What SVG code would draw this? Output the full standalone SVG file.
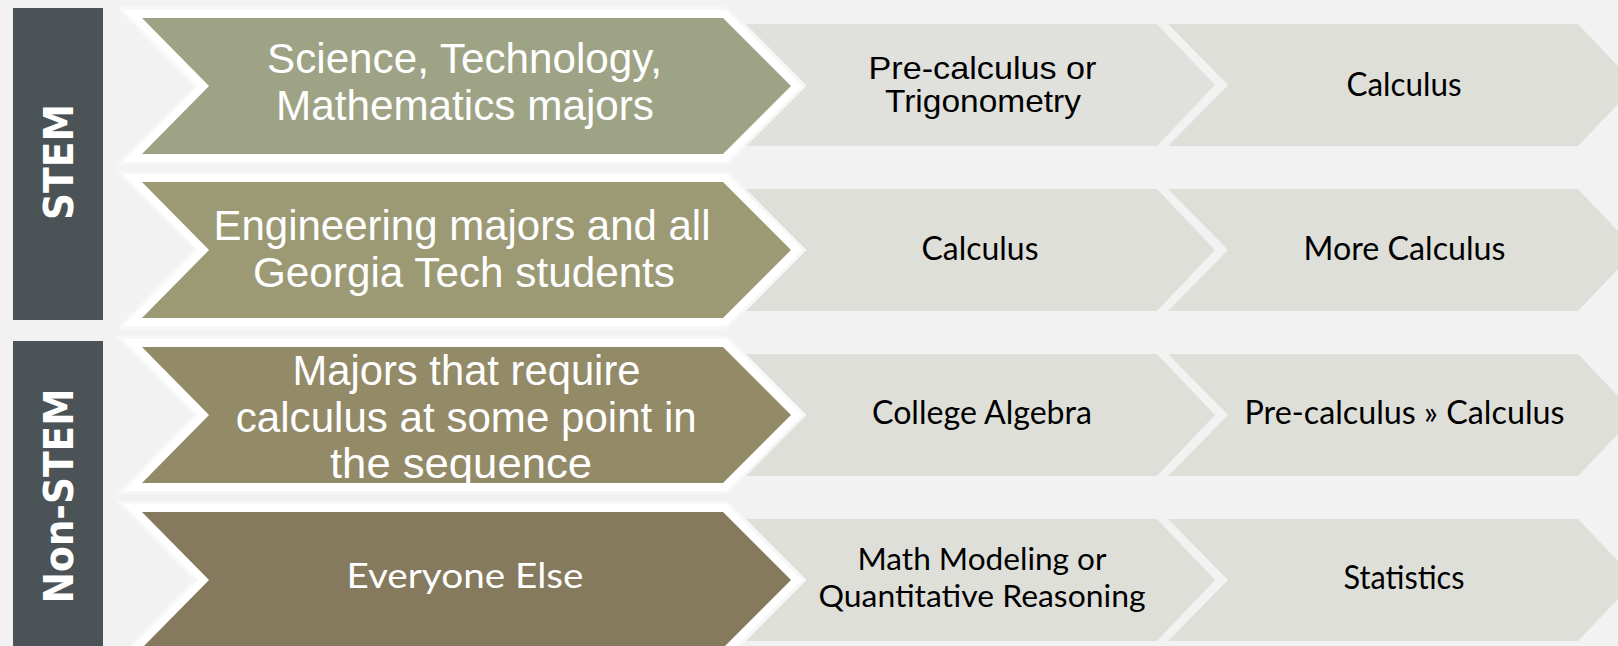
<svg xmlns="http://www.w3.org/2000/svg" width="1618" height="646" viewBox="0 0 1618 646">
<style>
.bg{fill:#f2f2f2}
.bar{fill:#4b5356}
.bartxt{font-family:"DejaVu Sans",sans-serif;font-weight:bold;font-size:40px;fill:#ffffff;text-anchor:middle}
.step{fill:#dfdfd9}
.glow{fill:none;stroke:#f7f7f7;stroke-width:22;stroke-linejoin:miter}
.cat{stroke:#ffffff;stroke-width:16;stroke-linejoin:miter;paint-order:stroke}
.ctxt{font-family:"Liberation Sans",Arial,sans-serif;font-size:42px;fill:#ffffff;text-anchor:middle}
.gtxt{font-family:Lato,"Open Sans",sans-serif;font-size:35px;fill:#ffffff;text-anchor:middle}
.stxt{font-family:Lato,"Open Sans",sans-serif;font-size:33px;fill:#000000;text-anchor:middle}
.mtxt{font-family:Lato,"Open Sans",sans-serif;font-size:30px;fill:#000000;text-anchor:middle}
.atxt{font-family:"Liberation Sans",Arial,sans-serif;font-size:32px;fill:#000000;text-anchor:middle}
</style>
<rect class="bg" x="0" y="0" width="1618" height="646"/>

<g id="group-stem">
  <rect class="bar" x="13" y="8" width="90" height="312"/>
  <text class="bartxt" transform="translate(72.7,162) rotate(-90)" textLength="116" lengthAdjust="spacingAndGlyphs">STEM</text>
</g>
<g id="group-nonstem">
  <rect class="bar" x="13" y="341" width="90" height="310"/>
  <text class="bartxt" transform="translate(72.7,496) rotate(-90)" textLength="215" lengthAdjust="spacingAndGlyphs">Non-STEM</text>
</g>

<!-- gray step chevrons -->
<g id="step-r1a">
  <polygon class="step" style="fill:#e0e1dc" points="746,24 1157,24 1215,85 1157,146 746,146 806,85"/>
  <text class="atxt" x="982.5" y="78.5" textLength="228" lengthAdjust="spacingAndGlyphs">Pre-calculus or</text>
  <text class="atxt" x="983" y="111.5" textLength="196" lengthAdjust="spacingAndGlyphs">Trigonometry</text>
</g>
<g id="step-r1b">
  <polygon class="step" points="1168,24 1578,24 1636,85 1578,146 1168,146 1228,85"/>
  <text class="stxt" x="1404" y="96" textLength="115" lengthAdjust="spacingAndGlyphs">Calculus</text>
</g>
<g id="step-r2a">
  <polygon class="step" points="746,189 1157,189 1215,250 1157,311 746,311 806,250"/>
  <text class="stxt" x="980" y="260" textLength="117" lengthAdjust="spacingAndGlyphs">Calculus</text>
</g>
<g id="step-r2b">
  <polygon class="step" points="1168,189 1578,189 1636,250 1578,311 1168,311 1228,250"/>
  <text class="stxt" x="1404.5" y="260" textLength="202" lengthAdjust="spacingAndGlyphs">More Calculus</text>
</g>
<g id="step-r3a">
  <polygon class="step" points="746,354 1157,354 1215,415 1157,476 746,476 806,415"/>
  <text class="stxt" x="982" y="424" textLength="220" lengthAdjust="spacingAndGlyphs">College Algebra</text>
</g>
<g id="step-r3b">
  <polygon class="step" points="1168,354 1578,354 1636,415 1578,476 1168,476 1228,415"/>
  <text class="stxt" x="1404.5" y="424" textLength="320" lengthAdjust="spacingAndGlyphs">Pre-calculus » Calculus</text>
</g>
<g id="step-r4a">
  <polygon class="step" points="746,519 1157,519 1215,580 1157,641 746,641 806,580"/>
  <text class="mtxt" x="982" y="570" textLength="249" lengthAdjust="spacingAndGlyphs">Math Modeling or</text>
  <text class="mtxt" x="982" y="607" textLength="327" lengthAdjust="spacingAndGlyphs">Quantitative Reasoning</text>
</g>
<g id="step-r4b">
  <polygon class="step" points="1168,519 1578,519 1636,580 1578,641 1168,641 1228,580"/>
  <text class="stxt" x="1404" y="589" textLength="121" lengthAdjust="spacingAndGlyphs">Statistics</text>
</g>

<!-- category chevrons -->
<g id="cat-r1">
  <polygon class="glow" points="142,18 723,18 791,86 723,154 142,154 209,86"/>
  <polygon class="cat" style="fill:#9da384" points="142,18 723,18 791,86 723,154 142,154 209,86"/>
  <text class="ctxt" x="464.5" y="73" textLength="395" lengthAdjust="spacingAndGlyphs">Science, Technology,</text>
  <text class="ctxt" x="465" y="119.5" textLength="378" lengthAdjust="spacingAndGlyphs">Mathematics majors</text>
</g>
<g id="cat-r2">
  <polygon class="glow" points="142,182 723,182 791,250 723,318 142,318 209,250"/>
  <polygon class="cat" style="fill:#9b9a75" points="142,182 723,182 791,250 723,318 142,318 209,250"/>
  <text class="ctxt" x="462" y="240" textLength="497" lengthAdjust="spacingAndGlyphs">Engineering majors and all</text>
  <text class="ctxt" x="464" y="287" textLength="422" lengthAdjust="spacingAndGlyphs">Georgia Tech students</text>
</g>
<g id="cat-r3">
  <polygon class="glow" points="142,347 723,347 791,415 723,483 142,483 209,415"/>
  <polygon class="cat" style="fill:#938a67" points="142,347 723,347 791,415 723,483 142,483 209,415"/>
  <text class="ctxt" x="466.5" y="384.5" textLength="348" lengthAdjust="spacingAndGlyphs">Majors that require</text>
  <text class="ctxt" x="466.3" y="431.5" textLength="461" lengthAdjust="spacingAndGlyphs">calculus at some point in</text>
  <text class="ctxt" x="461" y="478" textLength="262" lengthAdjust="spacingAndGlyphs">the sequence</text>
</g>
<g id="cat-r4">
  <polygon class="glow" points="142,512 723,512 791,580 723,648 142,648 209,580"/>
  <polygon class="cat" style="fill:#857a5d" points="142,512 723,512 791,580 723,648 142,648 209,580"/>
  <text class="gtxt" x="465" y="588" textLength="237" lengthAdjust="spacingAndGlyphs">Everyone Else</text>
</g>

<g id="connectors"></g>
</svg>
